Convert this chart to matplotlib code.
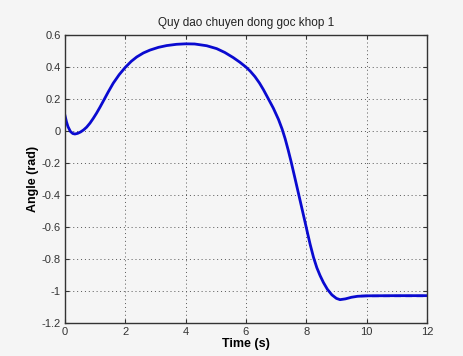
import matplotlib
matplotlib.use("Agg")
import matplotlib.pyplot as plt

# thoi gian (s) va goc khop 1 (rad), doc tu hinh
t = [0.00, 0.05, 0.10, 0.18, 0.26, 0.33, 0.42, 0.52, 0.62, 0.72, 0.83, 0.94,
     1.05, 1.16, 1.27, 1.43, 1.60, 1.80, 2.00, 2.20, 2.38, 2.60, 2.82, 3.10,
     3.37, 3.70, 4.00, 4.30, 4.70, 5.03, 5.30, 5.58, 5.80, 6.00, 6.14, 6.30,
     6.45, 6.58, 6.74, 6.91, 7.08, 7.20, 7.30, 7.40, 7.50, 7.63, 7.74, 7.85,
     7.96, 8.05, 8.13, 8.24, 8.35, 8.46, 8.57, 8.70, 8.85, 9.00, 9.12, 9.30,
     9.50, 9.70, 10.0, 11.0, 12.0]
goc = [0.095, 0.055, 0.025, -0.005, -0.018, -0.021, -0.017, -0.008, 0.005,
       0.022, 0.047, 0.077, 0.110, 0.146, 0.184, 0.240, 0.296, 0.350, 0.395,
       0.433, 0.460, 0.485, 0.503, 0.520, 0.531, 0.539, 0.542, 0.541, 0.530,
       0.512, 0.488, 0.456, 0.427, 0.397, 0.372, 0.337, 0.297, 0.256, 0.200,
       0.140, 0.070, 0.010, -0.050, -0.120, -0.195, -0.300, -0.390, -0.480,
       -0.570, -0.645, -0.710, -0.790, -0.855, -0.905, -0.948, -0.990, -1.025,
       -1.047, -1.055, -1.050, -1.040, -1.034, -1.031, -1.030, -1.030]

# gia tri dat (net dut o cuoi)
t_dat = [9.8, 12.0]
goc_dat = [-1.032, -1.032]

xticks = [0, 2, 4, 6, 8, 10, 12]
yticks = [0.6, 0.4, 0.2, 0, -0.2, -0.4, -0.6, -0.8, -1, -1.2]

plt.rcParams['font.family'] = ['Liberation Sans', 'DejaVu Sans']

nen = '#f5f5f5'
fig = plt.figure(figsize=(4.64, 3.56), dpi=100, facecolor=nen)
ax = fig.add_axes([0.140, 0.093, 0.780, 0.810], facecolor=nen)

ax.plot(t, goc, color='#0a0ad0', linewidth=2.0, solid_joinstyle='round')
ax.plot(t_dat, goc_dat, color='#0a0ad0', linewidth=1.6, linestyle=(0, (3, 2)))

ax.set_xlim(0, 12)
ax.set_ylim(-1.2, 0.6)
ax.set_xticks(xticks)
ax.set_xticklabels([str(v) for v in xticks])
ax.set_yticks(yticks)
ax.set_yticklabels([('%g' % v) for v in yticks])

ax.grid(True, linestyle=(0, (1, 3)), color='#555555', linewidth=0.7)
ax.tick_params(direction='in', top=True, right=True, labelsize=8,
               colors='#333333', length=3, pad=3)
for s in ax.spines.values():
    s.set_color('#333333')
    s.set_linewidth(1.0)

ax.set_title("Quy dao chuyen dong goc khop 1", fontsize=8.5, color='#222222', pad=6)
ax.set_xlabel("Time (s)", fontsize=9, fontweight='bold', labelpad=1)
ax.set_ylabel("Angle (rad)", fontsize=9, fontweight='bold', labelpad=2)

fig.savefig("out.png", dpi=100, facecolor=nen)
